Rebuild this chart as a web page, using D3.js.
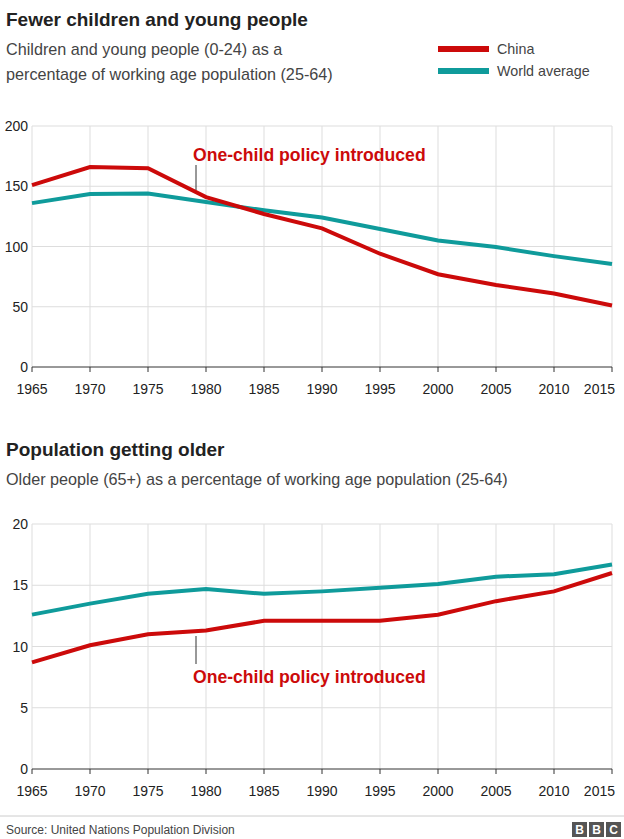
<!DOCTYPE html>
<html><head><meta charset="utf-8">
<script src="https://cdn.jsdelivr.net/npm/d3@7"></script>
<style>
body{margin:0;background:#fff;font-family:Helvetica,Arial,"Liberation Sans",sans-serif;}
svg text{font-family:Helvetica,Arial,"Liberation Sans",sans-serif;}
</style></head><body>
<svg id="c" width="624" height="839"></svg>
<script>
var years = [1965,1970,1975,1980,1985,1990,1995,2000,2005,2010,2015];
var youngChina = [151,166,165,141,127,115,94,77,68,61,51];
var youngWorld = [136,143.5,144,137,130,124,114.5,105,99.5,92,85.5];
var oldChina = [8.7,10.1,11,11.3,12.1,12.1,12.1,12.6,13.7,14.5,16];
var oldWorld = [12.6,13.5,14.3,14.7,14.3,14.5,14.8,15.1,15.7,15.9,16.7];
var youngTicks = [0,50,100,150,200];
var oldTicks = [0,5,10,15,20];

var red = "#cc0a0a", teal = "#0f9b9b";
var svg = d3.select("#c");
var x = d3.scaleLinear().domain([1965,2015]).range([32,612]);

function panel(top, bottom, max, ticks, china, world, note){
  var y = d3.scaleLinear().domain([0,max]).range([bottom, top]);
  var g = svg.append("g");
  g.selectAll(".v").data(years).enter().append("line")
    .attr("x1", d => x(d)).attr("x2", d => x(d))
    .attr("y1", top).attr("y2", bottom).attr("stroke", "#ddd");
  g.selectAll(".h").data(ticks).enter().append("line")
    .attr("x1", 32).attr("x2", 612)
    .attr("y1", d => y(d)).attr("y2", d => y(d))
    .attr("stroke", d => d === 0 ? "#333" : "#ddd");
  g.selectAll(".yl").data(ticks).enter().append("text")
    .attr("x", 28).attr("y", d => y(d) + 5).attr("text-anchor", "end")
    .attr("font-size", 14).attr("fill", "#222").text(d => d);
  g.selectAll(".xt").data(years).enter().append("line")
    .attr("x1", d => x(d)).attr("x2", d => x(d))
    .attr("y1", bottom).attr("y2", bottom + 5).attr("stroke", "#333");
  g.selectAll(".xl").data(years).enter().append("text")
    .attr("x", d => d === 2015 ? x(d) + 3 : x(d)).attr("y", bottom + 27)
    .attr("text-anchor", d => d === 2015 ? "end" : "middle")
    .attr("font-size", 14).attr("fill", "#222").text(d => d);
  var line = d3.line().x((d, i) => x(years[i])).y(d => y(d));
  g.append("path").attr("d", line(world)).attr("fill", "none")
    .attr("stroke", teal).attr("stroke-width", 4);
  g.append("path").attr("d", line(china)).attr("fill", "none")
    .attr("stroke", red).attr("stroke-width", 4);
  g.append("line").attr("x1", x(1980) - 10).attr("x2", x(1980) - 10)
    .attr("y1", note[0]).attr("y2", note[1]).attr("stroke", "#333");
  g.append("text").attr("x", 193).attr("y", note[2]).attr("fill", red)
    .attr("font-size", 17.6).attr("font-weight", "bold").text("One-child policy introduced");
}

svg.append("text").attr("x", 6).attr("y", 26).attr("font-size", 19)
  .attr("font-weight", "bold").attr("fill", "#222").text("Fewer children and young people");
svg.append("text").attr("x", 6).attr("y", 55).attr("font-size", 16.2).attr("fill", "#444")
  .text("Children and young people (0-24) as a");
svg.append("text").attr("x", 6).attr("y", 80).attr("font-size", 16.2).attr("fill", "#444")
  .text("percentage of working age population (25-64)");
var legend = [["China", red, 49], ["World average", teal, 71]];
legend.forEach(function(l){
  svg.append("line").attr("x1", 438).attr("x2", 489).attr("y1", l[2]).attr("y2", l[2])
    .attr("stroke", l[1]).attr("stroke-width", 6);
  svg.append("text").attr("x", 497).attr("y", l[2] + 5).attr("font-size", 14.3)
    .attr("fill", "#444").text(l[0]);
});

panel(126, 367, 200, youngTicks, youngChina, youngWorld, [165, 190, 161]);

svg.append("text").attr("x", 6).attr("y", 456).attr("font-size", 19)
  .attr("font-weight", "bold").attr("fill", "#222").text("Population getting older");
svg.append("text").attr("x", 6).attr("y", 485).attr("font-size", 16.2).attr("fill", "#444")
  .text("Older people (65+) as a percentage of working age population (25-64)");

panel(524, 769, 20, oldTicks, oldChina, oldWorld, [636, 664, 683]);

svg.append("line").attr("x1", 0).attr("x2", 624).attr("y1", 816).attr("y2", 816).attr("stroke", "#ccc");
svg.append("text").attr("x", 6).attr("y", 834).attr("font-size", 12).attr("fill", "#444")
  .text("Source: United Nations Population Division");
["B","B","C"].forEach(function(c, i){
  svg.append("rect").attr("x", 572 + i * 17).attr("y", 822).attr("width", 15).attr("height", 15).attr("fill", "#555");
  svg.append("text").attr("x", 579.5 + i * 17).attr("y", 834).attr("text-anchor", "middle")
    .attr("font-size", 12).attr("font-weight", "bold").attr("fill", "#fff").text(c);
});
</script>
</body></html>
